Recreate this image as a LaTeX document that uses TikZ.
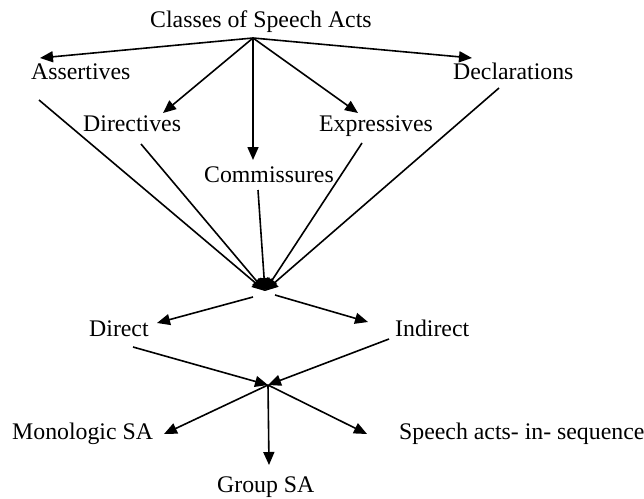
\documentclass[tikz,border=0pt]{standalone}
\usepackage{fontspec}
\setmainfont{Liberation Serif}
\usetikzlibrary{arrows.meta}
\begin{document}
\begin{tikzpicture}[x=1pt,y=-1pt,
  lbl/.style={anchor=base west,inner sep=0pt,font=\fontsize{23.8}{28}\selectfont},
  conn/.style={line width=1.6pt,-{Triangle[length=13pt,width=11pt]}},
  plain/.style={line width=1.6pt}]
\useasboundingbox (0,0) rectangle (644,498);
% labels
\node[lbl] (cls) at (150,27) {Classes of Speech Acts};
\node[lbl] (ass) at (31,79) {Assertives};
\node[lbl] (dec) at (453,79) {Declarations};
\node[lbl] (dir) at (83,131) {Directives};
\node[lbl] (exp) at (319,131) {Expressives};
\node[lbl] (com) at (204,182) {Commissures};
\node[lbl] (dct) at (89,336) {Direct};
\node[lbl] (ind) at (395,336) {Indirect};
\node[lbl] (mon) at (12,439) {Monologic SA};
\node[lbl] (seq) at (399,439) {Speech acts- in- sequence};
\node[lbl] (grp) at (217,492) {Group SA};
% points
\coordinate (src) at (253,38);
\coordinate (assT) at (40,58);
\coordinate (dirT) at (163,113);
\coordinate (comT) at (253,160);
\coordinate (expT) at (358,113);
\coordinate (decT) at (472,58);
\coordinate (assB) at (39,100);
\coordinate (dirB) at (141,144);
\coordinate (comB) at (258,190);
\coordinate (expB) at (362,143);
\coordinate (decB) at (499,88);
\coordinate (hubA) at (265,291);
\coordinate (hubAl) at (253,297);
\coordinate (hubAr) at (275,295);
\coordinate (dctT) at (157,323);
\coordinate (indT) at (368,322);
\coordinate (dctB) at (133,347);
\coordinate (indB) at (389,339);
\coordinate (hubB) at (268,385);
\coordinate (monT) at (164,434);
\coordinate (grpT) at (269,465);
\coordinate (seqT) at (367,434);
% connectors
\draw[conn] (src) -- (assT);
\draw[conn] (src) -- (dirT);
\draw[conn] (src) -- (comT);
\draw[conn] (src) -- (expT);
\draw[conn] (src) -- (decT);
\draw[conn] (assB) -- (hubA);
\draw[conn] (dirB) -- (hubA);
\draw[conn] (comB) -- (hubA);
\draw[conn] (expB) -- (hubA);
\draw[conn] (decB) -- (hubA);
\draw[conn] (hubAl) -- (dctT);
\draw[conn] (hubAr) -- (indT);
\draw[conn] (dctB) -- (hubB);
\draw[conn] (indB) -- (hubB);
\draw[conn] (hubB) -- (monT);
\draw[conn] (hubB) -- (grpT);
\draw[conn] (hubB) -- (seqT);
\end{tikzpicture}
\end{document}
